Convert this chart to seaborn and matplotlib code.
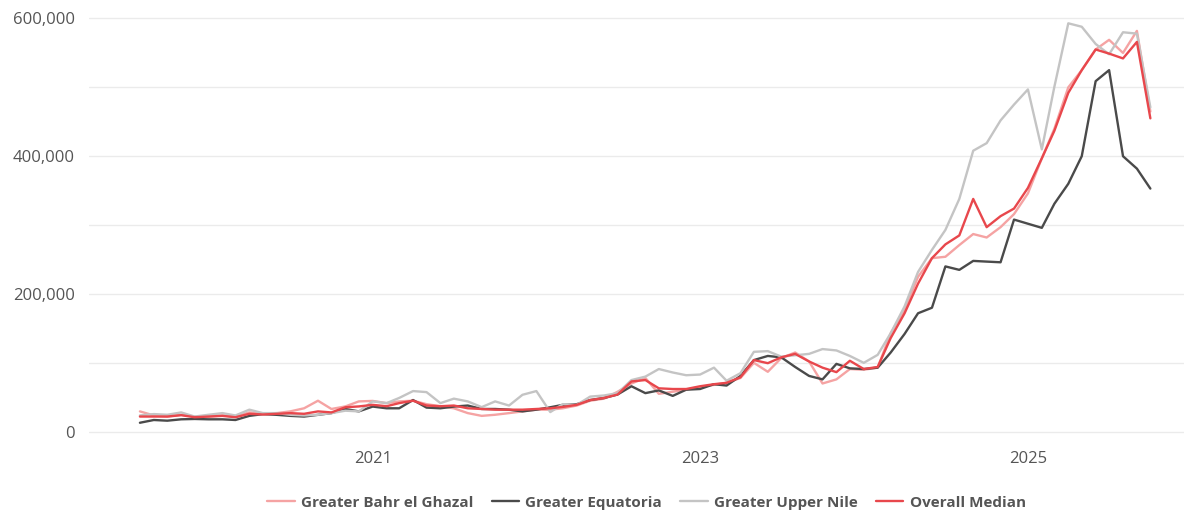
import numpy as np
import pandas as pd
import seaborn as sns
import matplotlib.pyplot as plt
import matplotlib.ticker as mticker

# monthly values, thousands (Aug 2019 .. Oct 2025)
months = pd.date_range("2019-08-01", periods=75, freq="MS")

bahr_el_ghazal = [29.5, 23.6, 22, 24.6, 22, 22, 23.6, 22, 28, 26,
                  27, 29.5, 34, 45, 33, 36.7, 44, 44.7, 41.5, 44,
                  45, 40, 37, 34, 27, 23, 24.6, 27, 29.5, 32,
                  32, 34, 38, 45, 48, 58, 70, 78, 55, 58,
                  61, 65, 68, 71, 78, 100, 87, 107, 115, 102,
                  70, 76, 91, 90, 93, 143, 177, 225, 252, 254,
                  271, 287, 282, 297, 316, 346, 397, 440, 500, 525,
                  555, 569, 550, 582, 465]
equatoria = [13, 17, 16, 18, 18.5, 18, 18, 17, 23, 25.5,
             24.5, 23, 22, 24.5, 27, 33, 29.5, 36.5, 34, 34,
             46, 35, 34, 36.5, 38, 33, 33, 32, 29.5, 32,
             35.5, 39, 40, 46, 49, 54, 66, 56, 60, 52,
             61, 62, 69, 67, 81, 104, 110, 108, 94, 81,
             76, 98.5, 92, 91, 93, 115, 142, 172, 180, 240,
             235, 248, 247, 246, 308, 302, 296, 331, 360, 400,
             509, 525, 400, 382, 353]
upper_nile = [23.6, 25.6, 24.6, 28, 22, 24.6, 27, 23.6, 32, 27,
              27, 24.6, 23.6, 24.6, 27, 30.5, 29.5, 44, 41.5, 49,
              59, 57.5, 41.5, 48, 44, 35.7, 44, 38, 53.6, 59,
              28.5, 40, 39, 51, 52.6, 56, 75, 80, 91, 86,
              82, 83, 93, 74, 85, 116, 117, 109, 111, 113,
              120, 118, 110, 100, 111.6, 143, 182, 232, 264, 293,
              338, 408, 419, 452, 475, 497, 410, 501, 593, 588,
              563, 548, 580, 578, 471]
overall_median = [22, 22, 22, 24, 21, 22, 23, 21, 26, 25,
                  26, 27, 26, 29.5, 28, 35.5, 36.7, 39, 37, 41.5,
                  45, 38, 37, 38, 34, 33, 32, 32, 32, 33,
                  34, 36, 39, 46, 49, 54, 73, 75, 63, 62,
                  62, 66, 69, 71, 79, 104, 99.5, 108, 113, 102,
                  93, 86.5, 103, 91, 94, 136, 172, 215, 252, 272,
                  285, 338, 297, 313, 324, 354, 397, 437, 492, 525,
                  555, 549, 542, 566, 455]

series = {
    "Greater Bahr el Ghazal": bahr_el_ghazal,
    "Greater Equatoria": equatoria,
    "Greater Upper Nile": upper_nile,
    "Overall Median": overall_median,
}
colors = {
    "Greater Bahr el Ghazal": "#f5a3a3",
    "Greater Equatoria": "#4a4a4a",
    "Greater Upper Nile": "#c4c4c4",
    "Overall Median": "#e8474c",
}

df = pd.concat(
    [pd.DataFrame({"date": months, "value": np.array(v) * 1000, "region": k})
     for k, v in series.items()],
    ignore_index=True,
)

sns.set_style("white")
plt.rcParams['font.family'] = ['Open Sans', 'DejaVu Sans']

fig = plt.figure(figsize=(11.84, 5.11), dpi=100)
ax = fig.add_axes([0.075, 0.139, 0.925, 0.841])

sns.lineplot(data=df, x="date", y="value", hue="region", palette=colors,
             linewidth=1.7, ax=ax, legend=False)

ax.set_ylim(-12000, 612000)
ax.set_xlim(pd.Timestamp("2019-04-09"), pd.Timestamp("2025-12-15"))
ax.yaxis.set_major_locator(mticker.MultipleLocator(200000))
ax.yaxis.set_minor_locator(mticker.MultipleLocator(100000))
ax.yaxis.set_major_formatter(mticker.FuncFormatter(lambda v, p: f"{int(v):,}"))
ax.set_xticks([pd.Timestamp(f"{y}-01-01") for y in (2021, 2023, 2025)])
ax.set_xticklabels(["2021", "2023", "2025"])

ax.grid(axis="y", which="both", color="#ebebeb", linewidth=1)
ax.grid(axis="x", visible=False)
for s in ax.spines.values():
    s.set_visible(False)
ax.tick_params(axis="both", which="both", length=0, labelsize=12,
               labelcolor="#555555")
ax.tick_params(axis="y", pad=10)
ax.tick_params(axis="x", pad=8)
ax.set_xlabel("")
ax.set_ylabel("")

handles = [plt.Line2D([], [], color=c, linewidth=1.7) for c in colors.values()]
fig.legend(handles, list(colors.keys()), loc="center", ncol=4,
           bbox_to_anchor=(0.546, 0.016), frameon=False,
           prop={"weight": "bold", "size": 11}, labelcolor="#555555",
           handlelength=1.8, columnspacing=1.2, handletextpad=0.4)

fig.savefig("out.png", dpi=100)
